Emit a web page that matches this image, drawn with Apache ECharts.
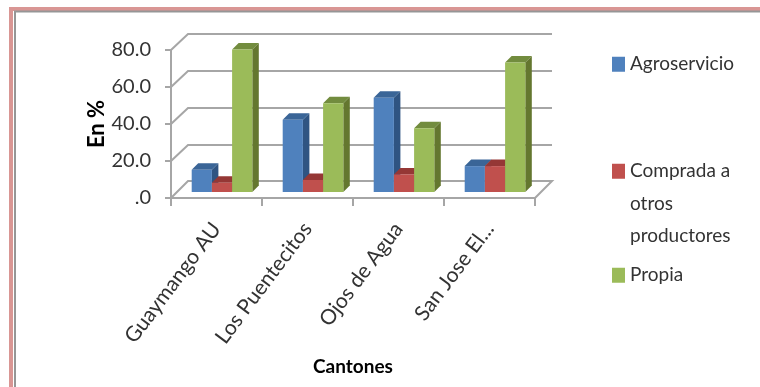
<!DOCTYPE html>
<html><head><meta charset="utf-8">
<style>html,body{margin:0;padding:0;background:#fff}#c{width:760px;height:387px}</style>
<script src="https://cdn.jsdelivr.net/npm/echarts@6/dist/echarts.min.js"></script>
</head><body><div id="c"></div>
<script>
const categories = ['Guaymango AU','Los Puentecitos','Ojos de Agua','San Jose El...'];
const agroservicio = [12, 39, 51, 14];
const comprada = [5, 6.5, 9.5, 14];
const propia = [77, 48, 34.5, 70];
const yTicks = [0, 20, 40, 60, 80];

const chart = echarts.init(document.getElementById('c'), null, {renderer:'canvas'});
const FF = 'Lato, "Open Sans", sans-serif';
const BW = 20.2, D = 6.5, SH = 5.5, BASE = 6, WALL = 17;
const palette = [
  {f:'#4f81bd', s:'#2f5482', t:'#3a6597'},
  {f:'#c0504d', s:'#7f3230', t:'#953735'},
  {f:'#9bbb59', s:'#64772f', t:'#728c3e'}
];
function bar3d(idx){
  return function(params, api){
    const p = api.coord([api.value(0), api.value(1)]);
    const z = api.coord([api.value(0), 0]);
    const x = p[0] + SH + (idx-1.5)*BW, top = p[1]-BASE, bot = z[1]-BASE;
    const c = palette[idx];
    const kids = [];
    kids.push({type:'polygon', shape:{points:[[x+BW,top],[x+BW+D,top-D],[x+BW+D,bot-D],[x+BW,bot]]}, style:{fill:c.s}});
    kids.push({type:'polygon', shape:{points:[[x,top],[x+D,top-D],[x+BW+D,top-D],[x+BW,top]]}, style:{fill:c.t}});
    kids.push({type:'rect', shape:{x:x,y:top,width:BW,height:bot-top}, style:{fill:c.f}});
    return {type:'group', children:kids};
  };
}
function wallItem(params, api){
  const v = api.value(0);
  const a = api.coord([0, v]);
  const right = api.coord([categories.length-1, v]);
  const cw = api.size([1,0])[0];
  const x0 = a[0]-cw/2, x1 = right[0]+cw/2, y = a[1];
  const pts = v===0
    ? [[x0,y],[x0+WALL,y-WALL],[x1+WALL,y-WALL],[x1,y]]
    : [[x0,y],[x0+WALL,y-WALL+1],[x1+WALL,y-WALL+1]];
  return {type:'polyline', shape:{points:pts}, style:{stroke:'#a6a6a6', lineWidth:2, fill:null}};
}
function series3d(name, data, idx){
  return {name:name, type:'custom', renderItem:bar3d(idx), z:5,
    data:data.map((v,i)=>[i,v]), encode:{x:0,y:1}, itemStyle:{color:palette[idx].f}};
}
const legendText = {fontFamily:FF, fontSize:19, color:'#333333', lineHeight:32.5};
function legend(name, top, fmt){
  return {data:[{name:name, icon:'rect'}], orient:'vertical', left:612, top:top, itemWidth:13, itemHeight:15, itemGap:0,
    padding:0, textStyle:legendText, formatter:fmt, selectedMode:false};
}
chart.setOption({
  animation:false,
  backgroundColor:'#fff',
  grid:{left:171, top:50, width:364, height:148},
  xAxis:{type:'category', data:categories, boundaryGap:true,
    name:'Cantones', nameLocation:'middle', nameGap:159,
    nameTextStyle:{fontFamily:FF, fontSize:19, fontWeight:'bold', color:'#000'},
    axisLine:{lineStyle:{color:'#a6a6a6', width:2}},
    axisTick:{show:true, alignWithLabel:false, length:8, lineStyle:{color:'#a6a6a6', width:2}},
    axisLabel:{rotate:53, interval:0, margin:27, fontFamily:FF, fontSize:21, color:'#333333'}
  },
  yAxis:{type:'value', min:0, max:80, interval:20,
    name:'En %', nameLocation:'middle', nameGap:63, nameRotate:90,
    nameTextStyle:{fontFamily:FF, fontSize:22, fontWeight:'bold', color:'#000'},
    axisLine:{show:true, lineStyle:{color:'#a6a6a6', width:2}},
    axisTick:{show:true, length:6, lineStyle:{color:'#a6a6a6', width:2}},
    splitLine:{show:false},
    axisLabel:{margin:20, fontFamily:FF, fontSize:20, color:'#333333',
      formatter:v=> v===0 ? '.0' : v.toFixed(1)}
  },
  legend:[
    legend('Agroservicio', 48, n=>n),
    legend('Comprada a otros productores', 90, ()=>'\n\nComprada a\notros\nproductores'),
    legend('Propia', 259, n=>n)
  ],
  graphic:[
    {type:'rect', shape:{x:11,y:9,width:760,height:400}, style:{fill:null, stroke:'#d99694', lineWidth:4}, silent:true},
    {type:'rect', shape:{x:15,y:11.5,width:760,height:400}, style:{fill:null, stroke:'#969696', lineWidth:2}, silent:true}
  ],
  series:[
    {type:'custom', name:'walls', renderItem:wallItem, z:1, data:yTicks.map(v=>[v]), encode:{y:0}, silent:true},
    series3d('Agroservicio', agroservicio, 0),
    series3d('Comprada a otros productores', comprada, 1),
    series3d('Propia', propia, 2)
  ]
});
</script></body></html>
